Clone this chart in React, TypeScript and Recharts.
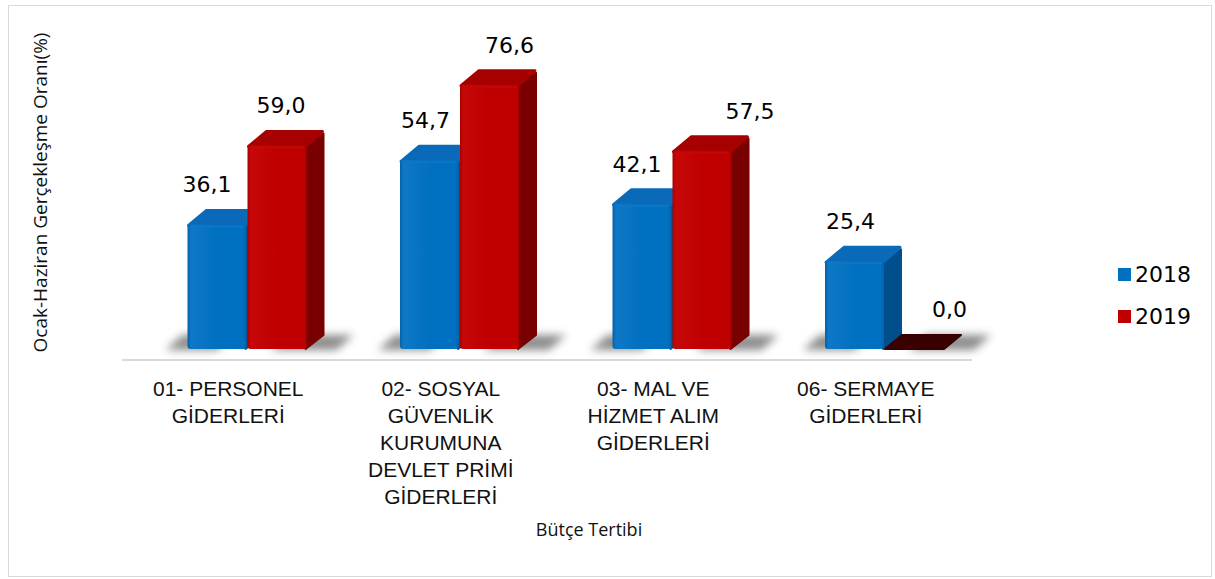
import React from 'react';
import { BarChart, Bar, XAxis, YAxis, Legend, LabelList } from 'recharts';

// ---- data ----
const categories = [
  '01- PERSONEL GİDERLERİ',
  '02- SOSYAL GÜVENLİK KURUMUNA DEVLET PRİMİ GİDERLERİ',
  '03- MAL VE HİZMET ALIM GİDERLERİ',
  '06- SERMAYE GİDERLERİ',
];
const tickLabelLines = [
  ['01- PERSONEL', 'GİDERLERİ'],
  ['02- SOSYAL', 'GÜVENLİK', 'KURUMUNA', 'DEVLET PRİMİ', 'GİDERLERİ'],
  ['03- MAL VE', 'HİZMET ALIM', 'GİDERLERİ'],
  ['06- SERMAYE', 'GİDERLERİ'],
];
const values2018 = [36.1, 54.7, 42.1, 25.4];
const values2019 = [59.0, 76.6, 57.5, 0.0];
const seriesNames = ['2018', '2019'];
const yAxisTitle = 'Ocak-Haziran Gerçekleşme Oranı(%)';
const xAxisTitle = 'Bütçe Tertibi';

// ---- style: label nudges (horizontal) ----
const labelNudge2018 = [-10, -4, -5, -4];
const labelNudge2019 = [4, 20, 48, 35];

const data = categories.map((name, i) => ({
  name,
  y2018: values2018[i],
  y2019: values2019[i],
}));

// 3D projection constants
const SX = 18.5; // front face shift right
const SY = 11; // front face shift up
const DX = 17; // depth x
const DY = 14; // depth y

const palettes = {
  blue: { front: '#0070C0', frontLight: '#0f78c6', frontDark: '#0062aa', side: '#004F8C', top: '#0a69b8', flat: '#0a3c66' },
  red: { front: '#C00000', frontLight: '#c60808', frontDark: '#ad0000', side: '#780000', top: '#a60000', flat: '#3a0000' },
};

function makeShape(key: 'blue' | 'red', shadowSide: 'left' | 'right') {
  const pal = palettes[key];
  return (props: any) => {
    const { x, y, width: w, height: h } = props;
    if (x == null || y == null) return null;
    const fx = x + SX;
    const fy = y - SY;
    const base = fy + h;
    const flat = h < 0.5;
    const shadowPts =
      shadowSide === 'left'
        ? `${fx - 22},${base + 1} ${fx + w * 0.5},${base + 1} ${fx + w * 0.5 + DX},${base - DY} ${fx - 22 + DX},${base - DY}`
        : `${fx + w * 0.4},${base + 1} ${fx + w + 30},${base + 1} ${fx + w + 30 + DX},${base - DY} ${fx + w * 0.4 + DX},${base - DY}`;
    return (
      <g>
        <defs>
          <filter id={`blur-${key}`} x="-50%" y="-100%" width="200%" height="300%">
            <feGaussianBlur stdDeviation="4.5" />
          </filter>
          <linearGradient id={`front-${key}`} x1="0" y1="0" x2="1" y2="0">
            <stop offset="0" stopColor={pal.frontDark} />
            <stop offset="0.06" stopColor={pal.frontLight} />
            <stop offset="0.5" stopColor={pal.front} />
            <stop offset="0.94" stopColor={pal.front} />
            <stop offset="1" stopColor={pal.frontDark} />
          </linearGradient>
        </defs>
        <polygon points={shadowPts} fill="#404040" opacity={0.6} filter={`url(#blur-${key})`} />
        {flat ? (
          <polygon
            points={`${fx},${base} ${fx + w},${base} ${fx + w + DX},${base - DY} ${fx + DX},${base - DY}`}
            fill={pal.flat}
            stroke={pal.flat}
            strokeLinejoin="round"
            strokeWidth={2}
          />
        ) : (
          <g>
            <polygon
              points={`${fx + w - 1},${fy + 1} ${fx + w + DX},${fy - DY + 2} ${fx + w + DX},${base - DY} ${fx + w - 1},${base}`}
              fill={pal.side}
              stroke={pal.side}
              strokeLinejoin="round"
              strokeWidth={2}
            />
            <polygon
              points={`${fx + 1},${fy + 1} ${fx + DX + 2},${fy - DY} ${fx + w + DX - 1},${fy - DY} ${fx + w - 1},${fy + 1}`}
              fill={pal.top}
              stroke={pal.top}
              strokeLinejoin="round"
              strokeWidth={3}
            />
            <rect x={fx} y={fy} width={w} height={h} rx={3} ry={3} fill={`url(#front-${key})`} />
            <rect x={fx + 2} y={fy + 1} width={w - 4} height={2} rx={1} fill={pal.frontLight} opacity={0.8} />
          </g>
        )}
      </g>
    );
  };
}

const blueShape = makeShape('blue', 'left');
const redShape = makeShape('red', 'right');

function makeLabel(nudges: number[]) {
  return (props: any) => {
    const vb = props.viewBox || props;
    const x = vb.x ?? props.x;
    const y = vb.y ?? props.y;
    const w = vb.width ?? props.width;
    const idx = props.index ?? 0;
    if (x == null || y == null) return null;
    const v = Number(props.value);
    const txt = v.toFixed(1).replace('.', ',');
    return (
      <text
        x={x + w / 2 + SX + (nudges[idx] || 0)}
        y={y - SY - 32}
        textAnchor="middle"
        fontFamily="'DejaVu Sans', sans-serif"
        fontSize={22}
        fill="#000"
      >
        {txt}
      </text>
    );
  };
}

const CategoryTick = (props: any) => {
  const { x, y, payload } = props;
  const i = categories.indexOf(payload.value);
  const lines = i >= 0 ? tickLabelLines[i] : [String(payload.value)];
  return (
    <g>
      {lines.map((l, k) => (
        <text
          key={k}
          x={x}
          y={y + 36 + k * 27}
          textAnchor="middle"
          fontFamily="'Liberation Sans', Arial, sans-serif"
          fontSize={21}
          fill="#111"
        >
          {l}
        </text>
      ))}
    </g>
  );
};

const YTitle = (props: any) => {
  const vb = props.viewBox;
  const cx = vb.x + 18;
  const cy = vb.y + vb.height / 2 + 5;
  return (
    <text
      x={cx}
      y={cy}
      transform={`rotate(-90 ${cx} ${cy})`}
      textAnchor="middle"
      dominantBaseline="central"
      fontFamily="'Open Sans', sans-serif"
      fontSize={19}
      fill="#111"
    >
      {yAxisTitle}
    </text>
  );
};

const XTitle = (props: any) => {
  const vb = props.viewBox;
  return (
    <text
      x={vb.x + vb.width / 2 + 42}
      y={vb.y + 176}
      textAnchor="middle"
      fontFamily="'Open Sans', sans-serif"
      fontSize={18}
      fill="#111"
    >
      {xAxisTitle}
    </text>
  );
};

const LegendContent = (props: any) => {
  const payload = props.payload || [];
  return (
    <div style={{ fontFamily: "'DejaVu Sans', sans-serif", fontSize: 22, color: '#000' }}>
      {payload.map((p: any, i: number) => (
        <div key={i} style={{ display: 'flex', alignItems: 'center', height: 42 }}>
          <span style={{ display: 'inline-block', width: 13, height: 13, background: p.color, marginRight: 4 }} />
          <span>{p.value}</span>
        </div>
      ))}
    </div>
  );
};

export default function App() {
  return (
    <div style={{ position: 'absolute', left: 0, top: 0, width: 1215, height: 579, background: '#fff' }}>
      <div
        style={{
          position: 'absolute',
          left: 8,
          top: 5,
          width: 1204,
          height: 572,
          border: '1px solid #d9d9d9',
          boxSizing: 'border-box',
        }}
      />
      <div style={{ position: 'absolute', left: 0, top: 0 }}>
        <BarChart
          width={1215}
          height={579}
          data={data}
          margin={{ top: 15, right: 243, bottom: 39, left: 22 }}
          barSize={59}
          barGap={1}
        >
          <YAxis
            width={100}
            domain={[0, 100]}
            tick={false}
            axisLine={false}
            tickLine={false}
            label={{ content: YTitle }}
          />
          <XAxis
            dataKey="name"
            height={180}
            interval={0}
            tickLine={false}
            tickSize={0}
            tickMargin={0}
            axisLine={{ stroke: '#d9d9d9', strokeWidth: 2 }}
            tick={<CategoryTick />}
            label={{ content: XTitle }}
          />
          <Legend
            layout="vertical"
            align="center"
            verticalAlign="middle"
            content={<LegendContent />}
            wrapperStyle={{ left: 1118, top: 253, width: 90 }}
          />
          <Bar dataKey="y2018" name={seriesNames[0]} fill="#0070C0" shape={blueShape} isAnimationActive={false}>
            <LabelList dataKey="y2018" content={makeLabel(labelNudge2018)} />
          </Bar>
          <Bar dataKey="y2019" name={seriesNames[1]} fill="#C00000" shape={redShape} isAnimationActive={false}>
            <LabelList dataKey="y2019" content={makeLabel(labelNudge2019)} />
          </Bar>
        </BarChart>
      </div>
    </div>
  );
}
